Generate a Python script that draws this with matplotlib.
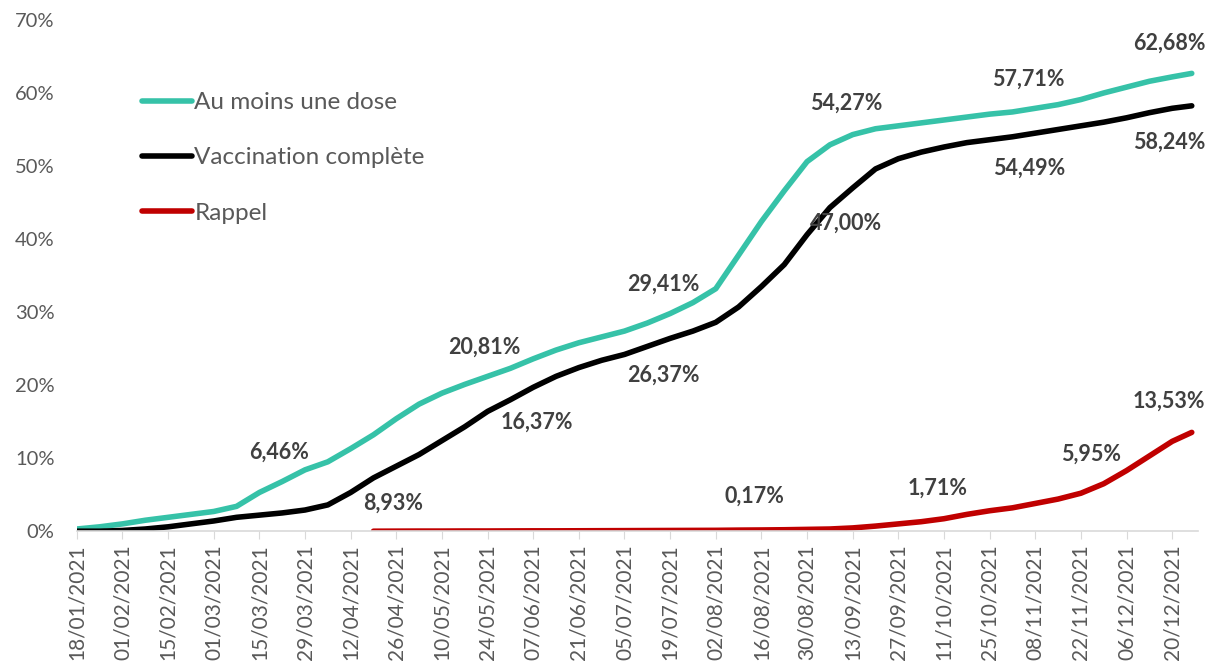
import numpy as np
import pandas as pd
import matplotlib
matplotlib.use("Agg")
import matplotlib.pyplot as plt
import matplotlib.dates as mdates
from matplotlib.ticker import FuncFormatter

plt.rcParams['font.family'] = ['Lato', 'DejaVu Sans']

# weekly readings from 18/01/2021, last point 26/12/2021
dates = list(pd.date_range('2021-01-18', '2021-12-20', freq='7D')) + [pd.Timestamp('2021-12-26')]
une_dose = [0.3, 0.6, 1.0, 1.5, 1.9, 2.3, 2.7, 3.4, 5.3, 6.8, 8.4, 9.5, 11.3, 13.2, 15.4,
            17.4, 18.9, 20.1, 21.2, 22.3, 23.6, 24.8, 25.8, 26.6, 27.4, 28.5, 29.8, 31.3,
            33.2, 37.8, 42.4, 46.6, 50.6, 52.9, 54.3, 55.1, 55.5, 55.9, 56.3, 56.7, 57.1,
            57.4, 57.9, 58.4, 59.1, 60.0, 60.8, 61.6, 62.2, 62.68]
complete = [0.0, 0.0, 0.1, 0.3, 0.6, 1.0, 1.4, 1.9, 2.2, 2.5, 2.9, 3.6, 5.3, 7.3, 8.9,
            10.5, 12.4, 14.3, 16.4, 18.0, 19.7, 21.2, 22.4, 23.4, 24.2, 25.3, 26.4, 27.4,
            28.6, 30.7, 33.5, 36.5, 40.6, 44.3, 47.0, 49.6, 51.0, 51.9, 52.6, 53.2, 53.6,
            54.0, 54.5, 55.0, 55.5, 56.0, 56.6, 57.3, 57.9, 58.24]
rappel = [np.nan] * 13 + [0.0, 0.01, 0.02, 0.02, 0.03, 0.03, 0.04, 0.05, 0.05, 0.06, 0.07,
                          0.08, 0.09, 0.1, 0.11, 0.12, 0.15, 0.17, 0.2, 0.25, 0.3, 0.45, 0.7,
                          1.0, 1.3, 1.71, 2.3, 2.8, 3.2, 3.8, 4.4, 5.2, 6.5, 8.3, 10.3, 12.3, 13.53]

labels = ['6,46%', '8,93%', '20,81%', '16,37%', '29,41%', '26,37%', '0,17%', '54,27%',
          '47,00%', '57,71%', '54,49%', '1,71%', '62,68%', '58,24%', '13,53%', '5,95%']
label_dates = ['2021-03-21', '2021-04-25', '2021-05-23', '2021-06-08', '2021-07-17', '2021-07-17',
               '2021-08-14', '2021-09-11', '2021-09-11', '2021-11-06', '2021-11-06', '2021-10-09',
               '2021-12-19', '2021-12-19', '2021-12-19', '2021-11-25']
label_y = [10.8, 3.9, 25.2, 14.9, 33.8, 21.4, 4.8, 58.6, 42.1, 61.9, 49.7, 5.9, 66.8, 53.3, 17.8, 10.5]

fig, ax = plt.subplots(figsize=(12.19, 6.64), dpi=100)
fig.subplots_adjust(left=0.063, right=0.983, bottom=0.2, top=0.97)

ax.plot(dates, une_dose, color='#36C2A8', lw=4, label='Au moins une dose', solid_capstyle='round')
ax.plot(dates, complete, color='black', lw=4, label='Vaccination complète', solid_capstyle='round')
ax.plot(dates, rappel, color='#C00000', lw=4, label='Rappel', solid_capstyle='round')

for t, d, y in zip(labels, label_dates, label_y):
    ax.text(pd.Timestamp(d), y, t, ha='center', va='center', fontsize=15.5,
            fontweight='bold', color='#404040')

ax.set_ylim(0, 70)
ax.set_yticks(range(0, 71, 10))
ax.yaxis.set_major_formatter(FuncFormatter(lambda v, p: f'{v:.0f}%'))
ax.set_xlim(pd.Timestamp('2021-01-18'), pd.Timestamp('2021-12-28'))
ax.set_xticks(pd.date_range('2021-01-18', '2021-12-20', freq='14D'))
ax.xaxis.set_major_formatter(mdates.DateFormatter('%d/%m/%Y'))
plt.setp(ax.get_xticklabels(), rotation=90)

for s in ['top', 'right', 'left']:
    ax.spines[s].set_visible(False)
ax.spines['bottom'].set_color('#d9d9d9')
ax.spines['bottom'].set_linewidth(1.2)
ax.tick_params(axis='y', length=0, labelsize=14.5, labelcolor='#595959', pad=16)
ax.tick_params(axis='x', length=6, color='#d9d9d9', labelsize=15, labelcolor='#595959')

leg = ax.legend(loc='upper left', bbox_to_anchor=(130 / 1219, 1 - 80 / 664),
                bbox_transform=fig.transFigure, frameon=False, fontsize=17.5, borderpad=0,
                handlelength=2.05, handletextpad=0.1, labelspacing=1.41, labelcolor='#595959')

plt.savefig('out.png', dpi=100)
